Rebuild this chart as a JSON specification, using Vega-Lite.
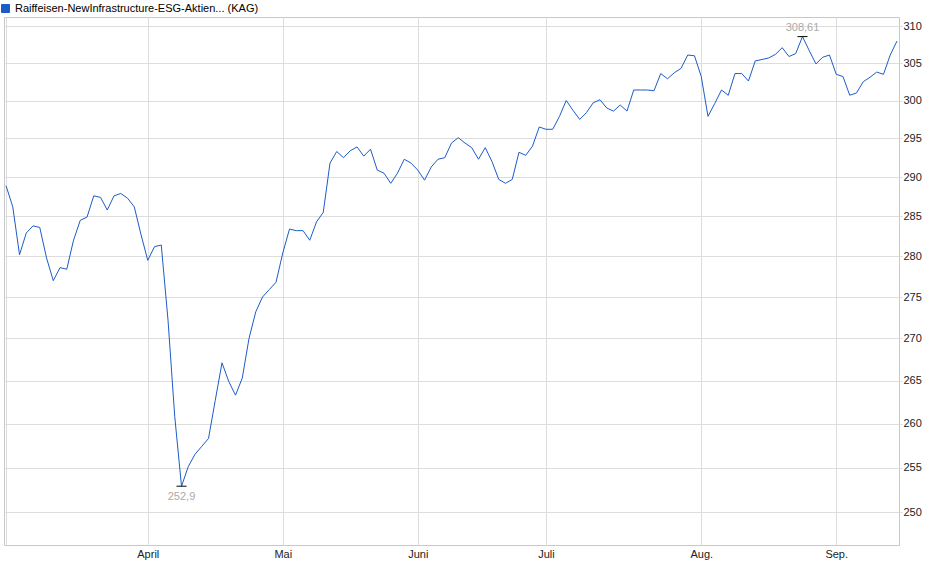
{
  "$schema": "https://vega.github.io/schema/vega-lite/v6.json",
  "width": 895,
  "height": 528,
  "autosize": "none",
  "padding": {"left": 4, "top": 17, "right": 41, "bottom": 34},
  "background": "white",
  "data": {
    "values": [
      {"date": "2025-03-03", "price": 288.9},
      {"date": "2025-03-04", "price": 286.2},
      {"date": "2025-03-05", "price": 280.2},
      {"date": "2025-03-06", "price": 282.9},
      {"date": "2025-03-07", "price": 283.8},
      {"date": "2025-03-10", "price": 283.6},
      {"date": "2025-03-11", "price": 279.8},
      {"date": "2025-03-12", "price": 277.0},
      {"date": "2025-03-13", "price": 278.6},
      {"date": "2025-03-14", "price": 278.4},
      {"date": "2025-03-17", "price": 282.0},
      {"date": "2025-03-18", "price": 284.5},
      {"date": "2025-03-19", "price": 284.9},
      {"date": "2025-03-20", "price": 287.6},
      {"date": "2025-03-21", "price": 287.4},
      {"date": "2025-03-24", "price": 285.8},
      {"date": "2025-03-25", "price": 287.6},
      {"date": "2025-03-26", "price": 287.9},
      {"date": "2025-03-27", "price": 287.3},
      {"date": "2025-03-28", "price": 286.2},
      {"date": "2025-03-31", "price": 282.7},
      {"date": "2025-04-01", "price": 279.5},
      {"date": "2025-04-02", "price": 281.2},
      {"date": "2025-04-03", "price": 281.4},
      {"date": "2025-04-04", "price": 272.2},
      {"date": "2025-04-07", "price": 260.8},
      {"date": "2025-04-08", "price": 252.9},
      {"date": "2025-04-09", "price": 255.1},
      {"date": "2025-04-10", "price": 256.5},
      {"date": "2025-04-11", "price": 257.4},
      {"date": "2025-04-14", "price": 258.3},
      {"date": "2025-04-15", "price": 262.7},
      {"date": "2025-04-16", "price": 267.1},
      {"date": "2025-04-17", "price": 264.9},
      {"date": "2025-04-22", "price": 263.3},
      {"date": "2025-04-23", "price": 265.3},
      {"date": "2025-04-24", "price": 270.0},
      {"date": "2025-04-25", "price": 273.2},
      {"date": "2025-04-28", "price": 275.0},
      {"date": "2025-04-29", "price": 275.9},
      {"date": "2025-04-30", "price": 276.8},
      {"date": "2025-05-02", "price": 280.4},
      {"date": "2025-05-05", "price": 283.4},
      {"date": "2025-05-06", "price": 283.2},
      {"date": "2025-05-07", "price": 283.2},
      {"date": "2025-05-08", "price": 282.0},
      {"date": "2025-05-09", "price": 284.3},
      {"date": "2025-05-12", "price": 285.5},
      {"date": "2025-05-13", "price": 291.8},
      {"date": "2025-05-14", "price": 293.3},
      {"date": "2025-05-15", "price": 292.5},
      {"date": "2025-05-16", "price": 293.4},
      {"date": "2025-05-19", "price": 293.9},
      {"date": "2025-05-20", "price": 292.7},
      {"date": "2025-05-21", "price": 293.6},
      {"date": "2025-05-22", "price": 290.9},
      {"date": "2025-05-23", "price": 290.5},
      {"date": "2025-05-26", "price": 289.2},
      {"date": "2025-05-27", "price": 290.5},
      {"date": "2025-05-28", "price": 292.3},
      {"date": "2025-05-30", "price": 291.8},
      {"date": "2025-06-02", "price": 290.9},
      {"date": "2025-06-03", "price": 289.6},
      {"date": "2025-06-04", "price": 291.3},
      {"date": "2025-06-05", "price": 292.3},
      {"date": "2025-06-06", "price": 292.5},
      {"date": "2025-06-10", "price": 294.4},
      {"date": "2025-06-11", "price": 295.1},
      {"date": "2025-06-12", "price": 294.4},
      {"date": "2025-06-13", "price": 293.8},
      {"date": "2025-06-16", "price": 292.3},
      {"date": "2025-06-17", "price": 293.8},
      {"date": "2025-06-18", "price": 292.0},
      {"date": "2025-06-20", "price": 289.7},
      {"date": "2025-06-23", "price": 289.2},
      {"date": "2025-06-24", "price": 289.7},
      {"date": "2025-06-25", "price": 293.2},
      {"date": "2025-06-26", "price": 292.8},
      {"date": "2025-06-27", "price": 294.0},
      {"date": "2025-06-30", "price": 296.5},
      {"date": "2025-07-01", "price": 296.2},
      {"date": "2025-07-02", "price": 296.2},
      {"date": "2025-07-03", "price": 297.9},
      {"date": "2025-07-04", "price": 300.0},
      {"date": "2025-07-07", "price": 298.7},
      {"date": "2025-07-08", "price": 297.5},
      {"date": "2025-07-09", "price": 298.4},
      {"date": "2025-07-10", "price": 299.7},
      {"date": "2025-07-11", "price": 300.1},
      {"date": "2025-07-14", "price": 299.0},
      {"date": "2025-07-15", "price": 298.6},
      {"date": "2025-07-16", "price": 299.4},
      {"date": "2025-07-17", "price": 298.6},
      {"date": "2025-07-18", "price": 301.4},
      {"date": "2025-07-21", "price": 301.4},
      {"date": "2025-07-22", "price": 301.4},
      {"date": "2025-07-23", "price": 301.3},
      {"date": "2025-07-24", "price": 303.6},
      {"date": "2025-07-25", "price": 302.9},
      {"date": "2025-07-28", "price": 303.7},
      {"date": "2025-07-29", "price": 304.3},
      {"date": "2025-07-30", "price": 306.1},
      {"date": "2025-07-31", "price": 306.0},
      {"date": "2025-08-01", "price": 303.2},
      {"date": "2025-08-04", "price": 297.9},
      {"date": "2025-08-05", "price": 299.6},
      {"date": "2025-08-06", "price": 301.4},
      {"date": "2025-08-07", "price": 300.7},
      {"date": "2025-08-08", "price": 303.6},
      {"date": "2025-08-11", "price": 303.6},
      {"date": "2025-08-12", "price": 302.6},
      {"date": "2025-08-13", "price": 305.3},
      {"date": "2025-08-14", "price": 305.5},
      {"date": "2025-08-18", "price": 305.7},
      {"date": "2025-08-19", "price": 306.2},
      {"date": "2025-08-20", "price": 307.1},
      {"date": "2025-08-21", "price": 305.9},
      {"date": "2025-08-22", "price": 306.3},
      {"date": "2025-08-25", "price": 308.61},
      {"date": "2025-08-26", "price": 306.7},
      {"date": "2025-08-27", "price": 304.9},
      {"date": "2025-08-28", "price": 305.8},
      {"date": "2025-08-29", "price": 306.1},
      {"date": "2025-09-01", "price": 303.5},
      {"date": "2025-09-02", "price": 303.2},
      {"date": "2025-09-03", "price": 300.7},
      {"date": "2025-09-04", "price": 301.0},
      {"date": "2025-09-05", "price": 302.5},
      {"date": "2025-09-08", "price": 303.1},
      {"date": "2025-09-09", "price": 303.8},
      {"date": "2025-09-10", "price": 303.5},
      {"date": "2025-09-11", "price": 306.1},
      {"date": "2025-09-12", "price": 308.0}
    ]
  },
  "encoding": {
    "x": {
      "field": "date",
      "type": "ordinal",
      "scale": {"type": "point", "padding": 0.3},
      "axis": {
        "values": ["2025-03-03", "2025-04-01", "2025-05-02", "2025-06-02", "2025-07-01", "2025-08-01", "2025-09-01"],
        "labelExpr": "datum.value == '2025-03-03' ? '' : ['Jan.', 'Feb.', 'März', 'April', 'Mai', 'Juni', 'Juli', 'Aug.', 'Sep.', 'Okt.', 'Nov.', 'Dez.'][toNumber(substring(datum.value, 5, 7)) - 1]",
        "labelAngle": 0,
        "labelPadding": 3,
        "ticks": false,
        "domain": false,
        "grid": true,
        "title": null
      }
    },
    "y": {
      "field": "price",
      "type": "quantitative",
      "scale": {"type": "log", "domain": [246.4, 311.3], "nice": false, "zero": false},
      "axis": {
        "orient": "right",
        "values": [250, 255, 260, 265, 270, 275, 280, 285, 290, 295, 300, 305, 310],
        "format": "d",
        "tickSize": 3,
        "labelPadding": 1,
        "domain": false,
        "grid": true,
        "title": null
      }
    }
  },
  "layer": [
    {
      "mark": {"type": "line", "strokeWidth": 1, "interpolate": "linear"},
      "encoding": {
        "color": {
          "datum": "Raiffeisen-NewInfrastructure-ESG-Aktien... (KAG)",
          "type": "nominal",
          "scale": {"range": ["#1c5cc8"]},
          "legend": {
            "title": null,
            "orient": "none",
            "legendX": -4,
            "legendY": -14,
            "padding": 0,
            "symbolType": "square",
            "symbolSize": 64,
            "symbolFillColor": "#1c5cc8",
            "symbolStrokeColor": "#1a3570",
            "symbolStrokeWidth": 1,
            "labelFontSize": 11,
            "labelColor": "#000000",
            "labelOffset": 4,
            "labelLimit": 400
          }
        }
      }
    },
    {
      "transform": [
        {"joinaggregate": [{"op": "max", "field": "price", "as": "hi"}, {"op": "min", "field": "price", "as": "lo"}]},
        {"filter": "datum.price == datum.hi || datum.price == datum.lo"}
      ],
      "mark": {"type": "tick", "orient": "horizontal", "size": 10, "thickness": 1, "color": "#000000", "opacity": 1}
    },
    {
      "transform": [
        {"joinaggregate": [{"op": "max", "field": "price", "as": "hi"}]},
        {"filter": "datum.price == datum.hi"}
      ],
      "mark": {"type": "text", "dy": -6, "baseline": "alphabetic", "fontSize": 11, "color": "#aaaaaa"},
      "encoding": {"text": {"field": "price", "type": "quantitative", "format": "~f"}}
    },
    {
      "transform": [
        {"joinaggregate": [{"op": "min", "field": "price", "as": "lo"}]},
        {"filter": "datum.price == datum.lo"}
      ],
      "mark": {"type": "text", "dy": 14, "baseline": "alphabetic", "fontSize": 11, "color": "#aaaaaa"},
      "encoding": {"text": {"field": "price", "type": "quantitative", "format": "~f"}}
    }
  ],
  "config": {
    "font": "Liberation Sans",
    "locale": {
      "number": {"decimal": ",", "thousands": ".", "grouping": [3], "currency": ["", " €"]}
    },
    "view": {"stroke": "#c8c8c8", "strokeWidth": 1},
    "axis": {
      "gridColor": "#dddddd",
      "gridWidth": 1,
      "gridOpacity": 1,
      "tickColor": "#dddddd",
      "labelFont": "Liberation Sans",
      "labelFontSize": 11,
      "labelColor": "#222222"
    },
    "legend": {"labelFont": "Liberation Sans"},
    "text": {"font": "Liberation Sans"}
  }
}
